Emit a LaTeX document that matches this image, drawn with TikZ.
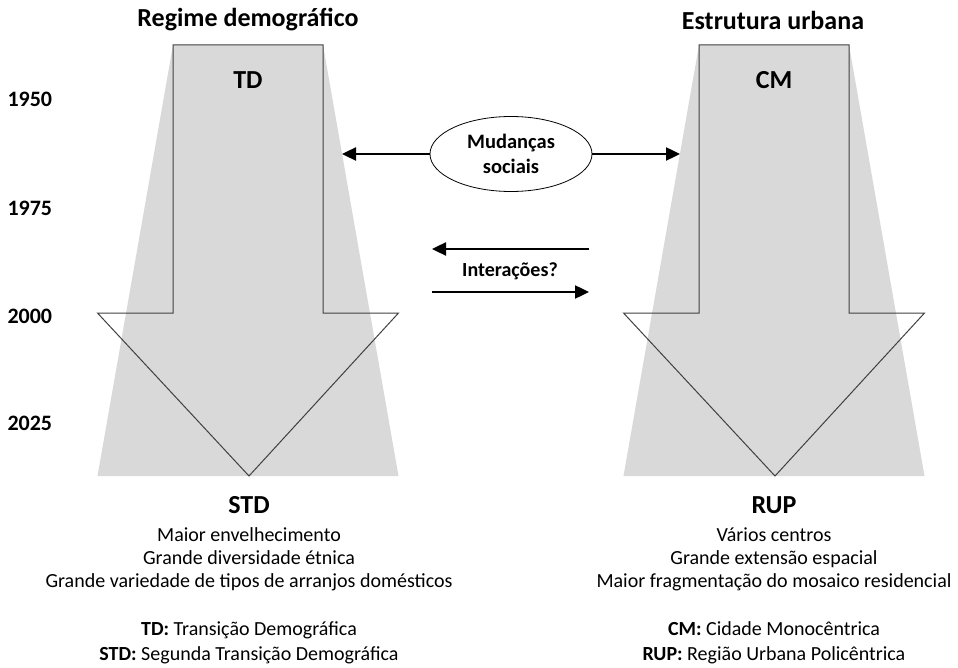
\documentclass[tikz,border=0pt]{standalone}
\usepackage{fontspec}
\setmainfont{Carlito}
\usetikzlibrary{arrows.meta,shapes.geometric}

\begin{document}
\begin{tikzpicture}[x=1pt,y=-1pt,
    trap/.style={fill=black!15,draw=none},
    bigarrow/.style={draw=black!75,line width=1pt,line join=miter},
    conn/.style={line width=2.4pt,-{Triangle[length=14pt,width=13pt]}},
    ttl/.style={font=\fontsize{26}{30}\selectfont\bfseries},
    yr/.style={font=\fontsize{22}{26}\selectfont\bfseries,anchor=west},
    abbr/.style={font=\fontsize{26}{30}\selectfont\bfseries},
    lst/.style={font=\fontsize{20}{23}\selectfont,align=center},
    defn/.style={font=\fontsize{20}{25}\selectfont,align=center}]
  \useasboundingbox (0,0) rectangle (958,668);
    % grey band and outline arrow, one per column
    \foreach \c/\nm in {248/dem,774/urb} {
      \fill[trap] (\c-75,45) -- (\c+75,45) -- (\c+150.5,476) -- (\c-150.5,476) -- cycle;
      \draw[bigarrow] (\c-75,45) -- (\c+75,45) -- (\c+75,313) -- (\c+150.5,313)
        -- (\c+1,476) -- (\c-150.5,313) -- (\c-75,313) -- cycle;
    }
    \node[ttl] (demtitle) at (248,20) {Regime demográfico};
    \node[ttl] (urbtitle) at (773,20) {Estrutura urbana};
    \node[ttl] (td) at (248,80) {TD};
    \node[ttl] (cm) at (774,80) {CM};
    % years
    \node[yr] (y1950) at (4,99) {1950};
    \node[yr] (y1975) at (4,208) {1975};
    \node[yr] (y2000) at (4,316) {2000};
    \node[yr] (y2025) at (4,423) {2025};
    % middle
    \node[draw,ellipse,line width=0.8pt,minimum width=162pt,minimum height=75pt,inner sep=0pt,
      align=center,font=\fontsize{20.5}{25}\selectfont\bfseries] (soc) at (511,154) {Mudanças\\sociais};
    \coordinate (demedge) at (342,154);
    \coordinate (urbedge) at (680,154);
    \draw[conn] (soc.west) -- (demedge);
    \draw[conn] (soc.east) -- (urbedge);
    \coordinate (ir1) at (589,249);
    \coordinate (il1) at (432,249);
    \coordinate (il2) at (432,292);
    \coordinate (ir2) at (589,292);
    \draw[conn] (ir1) -- (il1);
    \draw[conn] (il2) -- (ir2);
    \node[font=\fontsize{20}{24}\selectfont\bfseries] (int) at (510,271) {Interações?};
    % bottom texts
    \node[abbr] (std) at (249,505) {STD};
    \node[lst] (stdlist) at (249,559) {Maior envelhecimento\\Grande diversidade étnica\\Grande variedade de tipos de arranjos domésticos};
    \node[defn] (demdef) at (249,643) {\textbf{TD:} Transição Demográfica\\\textbf{STD:} Segunda Transição Demográfica};
    \node[abbr] (rup) at (774,505) {RUP};
    \node[lst] (ruplist) at (774,559) {Vários centros\\Grande extensão espacial\\Maior fragmentação do mosaico residencial};
    \node[defn] (urbdef) at (774,643) {\textbf{CM:} Cidade Monocêntrica\\\textbf{RUP:} Região Urbana Policêntrica};
\end{tikzpicture}
\end{document}
